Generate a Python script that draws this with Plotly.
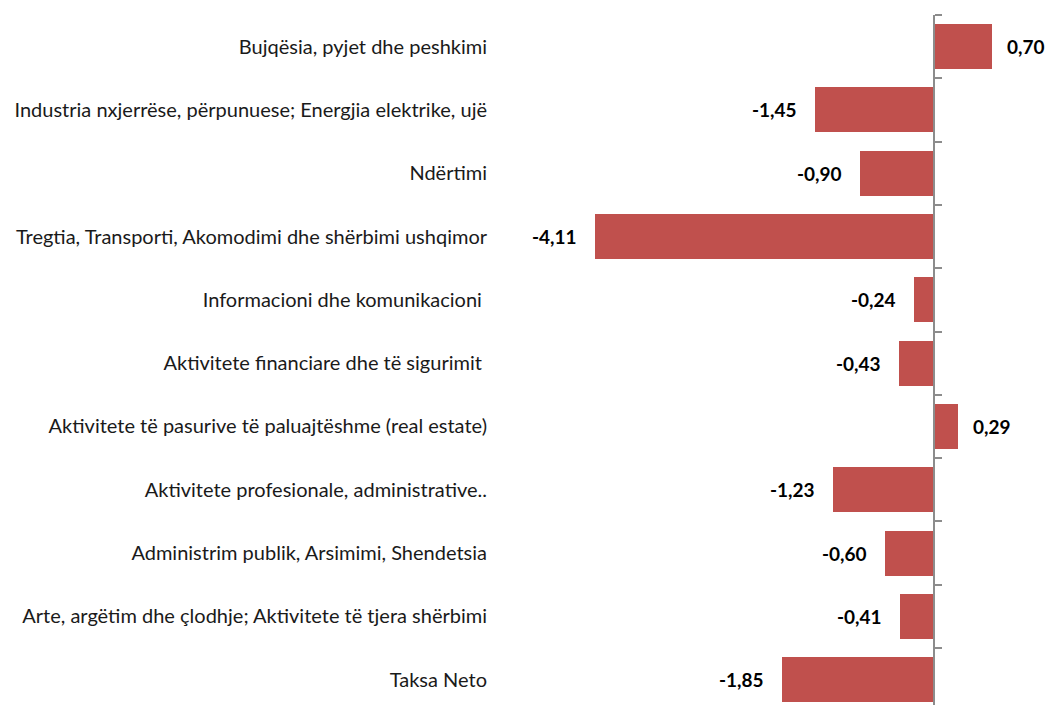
import plotly.graph_objects as go

categories = [
    "Bujqësia, pyjet dhe peshkimi",
    "Industria nxjerrëse, përpunuese; Energjia elektrike, ujë",
    "Ndërtimi",
    "Tregtia, Transporti, Akomodimi dhe shërbimi ushqimor",
    "Informacioni dhe komunikacioni ",
    "Aktivitete financiare dhe të sigurimit ",
    "Aktivitete të pasurive të paluajtëshme (real estate)",
    "Aktivitete profesionale, administrative..",
    "Administrim publik, Arsimimi, Shendetsia",
    "Arte, argëtim dhe çlodhje; Aktivitete të tjera shërbimi",
    "Taksa Neto",
]
values = [0.70, -1.45, -0.90, -4.11, -0.24, -0.43, 0.29, -1.23, -0.60, -0.41, -1.85]
value_labels = ["0,70", "-1,45", "-0,90", "-4,11", "-0,24", "-0,43", "0,29", "-1,23", "-0,60", "-0,41", "-1,85"]

BAR = "#C0504D"
AXIS = "#8C8C8C"
FONT = "Lato"

x_min, x_max = -5.282, 1.340
y_lo, y_hi = 10.40, -0.5

fig = go.Figure()
fig.add_trace(go.Bar(
    x=values, y=categories, orientation="h",
    marker=dict(color=BAR, line=dict(width=0)),
    width=0.71, hoverinfo="skip", showlegend=False,
))

for cat, v, lab in zip(categories, values, value_labels):
    fig.add_annotation(
        x=v, y=cat, text=f"<b>{lab}</b>", showarrow=False,
        xanchor="left" if v >= 0 else "right",
        xshift=13 if v >= 0 else -16,
        font=dict(family=FONT, size=19, color="#000000"),
    )

zero_pos = (0 - x_min) / (x_max - x_min)

fig.update_layout(
    width=1045, height=705,
    margin=dict(l=498, r=0, t=15, b=0),
    paper_bgcolor="white", plot_bgcolor="white",
    bargap=0,
    xaxis=dict(range=[x_min, x_max], visible=False, showgrid=False, zeroline=False),
    yaxis=dict(
        type="category", range=[y_lo, y_hi], showgrid=False, zeroline=False,
        showline=False, ticks="", ticklabelstandoff=10,
        tickfont=dict(family=FONT, size=20, color="#1a1a1a"),
    ),
    yaxis2=dict(
        overlaying="y", anchor="free", position=zero_pos, side="right",
        range=[y_lo, y_hi], showgrid=False, zeroline=False,
        showline=True, linecolor=AXIS, linewidth=2,
        ticks="outside", ticklen=7, tickwidth=2, tickcolor=AXIS,
        tickvals=[i - 0.5 for i in range(len(categories) + 1)],
        showticklabels=False,
    ),
)
fig.add_trace(go.Scatter(x=[None], y=[None], yaxis="y2", showlegend=False, hoverinfo="skip"))

fig.write_html(
    "out.html",
    config={"displayModeBar": False, "staticPlot": True},
    post_script="document.body.style.margin='0';document.body.style.overflow='hidden';",
)
